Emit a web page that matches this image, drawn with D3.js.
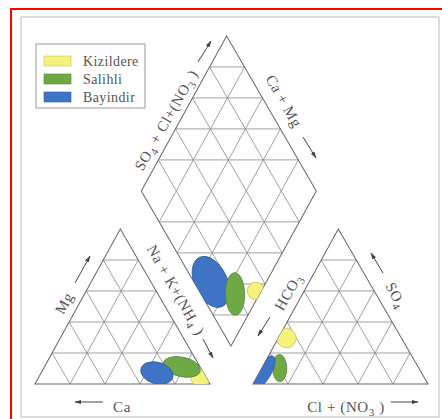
<!DOCTYPE html>
<html>
<head>
<meta charset="utf-8">
<script src="https://cdn.jsdelivr.net/npm/d3@7"></script>
<style>
body { margin: 0; background: #fff; }
text { font-family: "Liberation Serif", "DejaVu Serif", serif; fill: #555; }
</style>
</head>
<body>
<script>
// groups of samples
var groups = ['Kizildere', 'Salihli', 'Bayindir'];
var colors = ['#f5f17a', '#6ea945', '#3f73c6'];

// cation triangle: sample field centre (Ca %, Mg %), spread (% of side), tilt
var catCa = [2.9, 10.5, 26.7];
var catMg = [4.5, 11.0, 7.1];
var catRx = [5.9, 10.8, 9.4];
var catRy = [5.3, 5.6, 6.2];
var catTilt = [0, 12, 15];

// anion triangle: (Cl %, SO4 %)
var anCl = [4.6, 10.2, 2.6];
var anSo4 = [29.7, 10.3, 7.7];
var anRx = [5.6, 4.1, 4.0];
var anRy = [5.6, 7.8, 10.5];
var anTilt = [0, 0, 30];

// diamond: (Na+K %, SO4+Cl %)
var diaNa = [97, 86, 68.4];
var diaSo4 = [32.5, 19.5, 9.7];
var diaRx = [5.0, 5.5, 9.4];
var diaRy = [5.0, 12.2, 15.4];
var diaTilt = [0, 0, -24];

var ticks = [20, 40, 60, 80];

var width = 442, height = 419;
var side = 175, tall = 155, gap = 43;
var base = 384, catX0 = 35, anX0 = catX0 + side + gap;

var sx = d3.scaleLinear().domain([0, 100]).range([0, side]);
var sy = d3.scaleLinear().domain([0, 100]).range([0, tall]);

function cat(ca, mg) {
    var na = 100 - ca - mg;
    return [catX0 + sx(na + mg / 2), base - sy(mg)];
}
function an(cl, so4) {
    return [anX0 + sx(cl + so4 / 2), base - sy(so4)];
}
var diaL = [catX0 + side + gap / 2 - sx(50), base - sy(gap / side * 100) - tall];
function dia(na, so4) {
    return [diaL[0] + sx((na + so4) / 2), diaL[1] + sy(na - so4)];
}

var svg = d3.select('body')
            .append('svg')
            .attr('width', width)
            .attr('height', height);

svg.append('rect')
    .attr('x', 11).attr('y', 9)
    .attr('width', 440).attr('height', 420)
    .attr('fill', 'none').attr('stroke', '#f00').attr('stroke-width', 2);
svg.append('rect')
    .attr('x', 21).attr('y', 17)
    .attr('width', 418).attr('height', 400)
    .attr('fill', 'none').attr('stroke', '#bbb').attr('stroke-width', 1);

// the scan leans slightly to the left
var plot = svg.append('g')
              .attr('transform', 'matrix(1,0,0.014,1,' + (-0.014 * base) + ',0)');

var catTri = [cat(100, 0), cat(0, 0), cat(0, 100)];
var anTri = [an(0, 0), an(100, 0), an(0, 100)];
var diaTop = [dia(0, 0), dia(100, 100), dia(0, 100)];
var diaBot = [dia(0, 0), dia(100, 100), dia(100, 0)];

var lerp = function (a, b, t) {
    return [a[0] + (b[0] - a[0]) * t, a[1] + (b[1] - a[1]) * t];
};

function gridLines(tri) {
    var out = [];
    for (var k = 0; k < 3; k++) {
        ticks.forEach(function (v) {
            var t = v / 100;
            out.push([lerp(tri[k], tri[(k + 1) % 3], t), lerp(tri[k], tri[(k + 2) % 3], t)]);
        });
    }
    return out;
}

var defs = svg.append('defs');
var shapes = { cat: [catTri], an: [anTri], dia: [diaTop, diaBot] };
Object.keys(shapes).forEach(function (key) {
    var cp = defs.append('clipPath').attr('id', 'clip-' + key);
    shapes[key].forEach(function (tri) {
        cp.append('path').attr('d', 'M' + tri.join('L') + 'Z');
    });
});

var allTris = [catTri, anTri, diaTop, diaBot];
var lines = [];
allTris.forEach(function (tri) { lines = lines.concat(gridLines(tri)); });

plot.selectAll('.grid')
    .data(lines)
    .enter()
    .append('line')
    .attr('class', 'grid')
    .attr('x1', function (d) { return d[0][0]; })
    .attr('y1', function (d) { return d[0][1]; })
    .attr('x2', function (d) { return d[1][0]; })
    .attr('y2', function (d) { return d[1][1]; })
    .attr('stroke', '#8a8a8a')
    .attr('stroke-width', 0.8);

plot.selectAll('.outline')
    .data([catTri, anTri, [diaTop[0], diaBot[2], diaTop[1], diaTop[2]]])
    .enter()
    .append('path')
    .attr('class', 'outline')
    .attr('d', function (d) { return 'M' + d.join('L') + 'Z'; })
    .attr('fill', 'none')
    .attr('stroke', '#666')
    .attr('stroke-width', 1);

function blobs(key, pos, a, b, rx, ry, tilt, order) {
    var g = plot.append('g').attr('clip-path', 'url(#clip-' + key + ')');
    g.selectAll('ellipse')
        .data(order)
        .enter()
        .append('ellipse')
        .attr('transform', function (i) {
            var p = pos(a[i], b[i]);
            return 'translate(' + p[0] + ',' + p[1] + ') rotate(' + tilt[i] + ')';
        })
        .attr('rx', function (i) { return sx(rx[i]); })
        .attr('ry', function (i) { return sx(ry[i]); })
        .attr('fill', function (i) { return colors[i]; })
        .attr('stroke', function (i) { return d3.color(colors[i]).darker(0.6); })
        .attr('stroke-width', 0.8);
}

blobs('cat', cat, catCa, catMg, catRx, catRy, catTilt, [0, 1, 2]);
blobs('an', an, anCl, anSo4, anRx, anRy, anTilt, [0, 1, 2]);
blobs('dia', dia, diaNa, diaSo4, diaRx, diaRy, diaTilt, [0, 2, 1]);

// legend
var legend = svg.append('g');
legend.append('rect')
    .attr('x', 36).attr('y', 44)
    .attr('width', 109).attr('height', 64)
    .attr('fill', '#fff').attr('stroke', '#999');
legend.selectAll('.sw')
    .data(groups)
    .enter()
    .append('rect')
    .attr('class', 'sw')
    .attr('x', 44)
    .attr('y', function (d, i) { return 56 + i * 18; })
    .attr('width', 27).attr('height', 10)
    .attr('fill', function (d, i) { return colors[i]; })
    .attr('stroke', function (d, i) { return d3.color(colors[i]).darker(0.6); })
    .attr('stroke-width', 0.6);
legend.selectAll('.lt')
    .data(groups)
    .enter()
    .append('text')
    .attr('class', 'lt')
    .attr('x', 83)
    .attr('y', function (d, i) { return 66 + i * 18; })
    .attr('font-size', 14)
    .attr('letter-spacing', 0.4)
    .text(function (d) { return d; });

// axis titles, with subscripts
var titles = [
    { x: 166, y: 120, r: -60.5, parts: [['SO', 0], ['4', 1], [' + Cl+(NO', 0], ['3', 1], [' )', 0]] },
    { x: 284, y: 101, r: 60.5, parts: [['Ca + Mg', 0]] },
    { x: 176, y: 290, r: 60.5, parts: [['Na + K+(NH', 0], ['4', 1], [' )', 0]] },
    { x: 288, y: 292, r: -60.5, parts: [['HCO', 0], ['3', 1]] },
    { x: 64, y: 303, r: -60.5, parts: [['Mg', 0]] },
    { x: 396, y: 295, r: 60.5, parts: [['SO', 0], ['4', 1]] },
    { x: 122, y: 407, r: 0, parts: [['Ca', 0]] },
    { x: 346, y: 407, r: 0, parts: [['Cl + (NO', 0], ['3', 1], [' )', 0]] }
];
titles.forEach(function (t) {
    var txt = svg.append('text')
        .attr('transform', 'translate(' + t.x + ',' + t.y + ') rotate(' + t.r + ')')
        .attr('text-anchor', 'middle')
        .attr('dy', '0.35em')
        .attr('font-size', 15)
        .attr('letter-spacing', 0.6);
    t.parts.forEach(function (p) {
        var ts = txt.append('tspan').text(p[0]);
        if (p[1]) ts.attr('font-size', 11).attr('dy', 4);
        else if (txt.selectAll('tspan').size() > 1) ts.attr('dy', -4);
    });
});

// direction arrows
defs.append('marker')
    .attr('id', 'head')
    .attr('viewBox', '0 0 10 10')
    .attr('refX', 9).attr('refY', 5)
    .attr('markerWidth', 7).attr('markerHeight', 7)
    .attr('orient', 'auto')
    .append('path')
    .attr('d', 'M0,2L10,5L0,8Z')
    .attr('fill', '#444');

var arrows = [
    [198, 62, 211, 41], [303, 137, 316, 158], [203, 339, 213, 358],
    [270, 317, 258, 336], [75, 283, 90, 256], [383, 273, 371, 253],
    [103, 402, 75, 402], [391, 402, 418, 402]
];
svg.selectAll('.arrow')
    .data(arrows)
    .enter()
    .append('line')
    .attr('class', 'arrow')
    .attr('x1', function (d) { return d[0]; })
    .attr('y1', function (d) { return d[1]; })
    .attr('x2', function (d) { return d[2]; })
    .attr('y2', function (d) { return d[3]; })
    .attr('stroke', '#444')
    .attr('stroke-width', 1)
    .attr('marker-end', 'url(#head)');
</script>
</body>
</html>
